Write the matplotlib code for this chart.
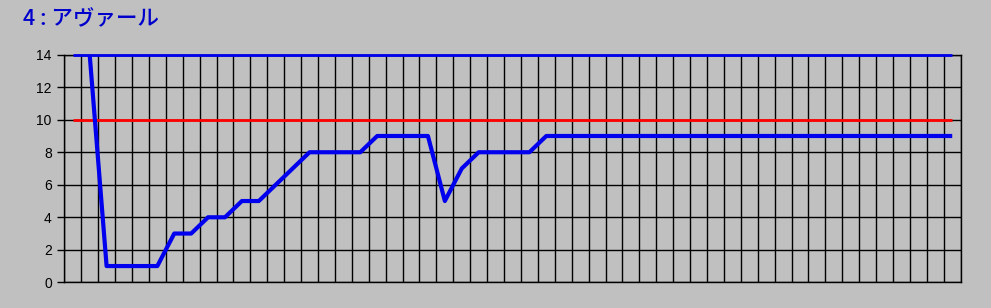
import numpy as np
import matplotlib
matplotlib.use('Agg')
import matplotlib.pyplot as plt

# --- data ---
n_cat = 53
days = np.arange(1, n_cat + 1)
values = [np.nan, 14, 1, 1, 1, 1, 3, 3, 4, 4, 5, 5, 6, 7, 8,
          8, 8, 8, 9, 9, 9, 9, 5, 7, 8, 8, 8, 8] + [9] * 25
upper_line = [14] * n_cat
limit_line = [10] * n_cat
title = "4 : アヴァール"
yticks = [0, 2, 4, 6, 8, 10, 12, 14]

bg = '#C0C0C0'
fig = plt.figure(figsize=(9.91, 3.08), dpi=100, facecolor=bg)
ax = fig.add_axes([0.0649, 0.0834, 0.9045, 0.739], facecolor=bg)

# grid
ax.set_xlim(0.5, n_cat + 0.5)
ax.set_ylim(0, 14)
ax.set_xticks(np.arange(0.5, n_cat + 1, 1))
ax.set_xticklabels([])
ax.set_yticks(yticks)
ax.grid(True, color='black', linewidth=1.0)
ax.set_axisbelow(True)
ax.tick_params(axis='x', length=0)
ax.tick_params(axis='y', length=5, width=1, color='black', labelsize=10, pad=4)
for lbl in ax.get_yticklabels():
	lbl.set_family(['Liberation Sans', 'DejaVu Sans'])
for s in ax.spines.values():
	s.set_color('black')
	s.set_linewidth(1.0)

# lines
ax.plot(days, upper_line, color='#0000EE', linewidth=2, solid_capstyle='butt', clip_on=False, zorder=3)
ax.plot(days, limit_line, color='#FF0000', linewidth=2, solid_capstyle='butt', zorder=3)
ax.plot(days, values, color='#0000EE', linewidth=3, solid_capstyle='butt', zorder=4)

fig.text(0.023, 0.937, title, color='#0000CC', fontsize=15.5, fontweight='medium',
	family=['Noto Sans CJK JP', 'DejaVu Sans'], va='center', ha='left')

fig.savefig('out.png', dpi=100, facecolor=bg)
